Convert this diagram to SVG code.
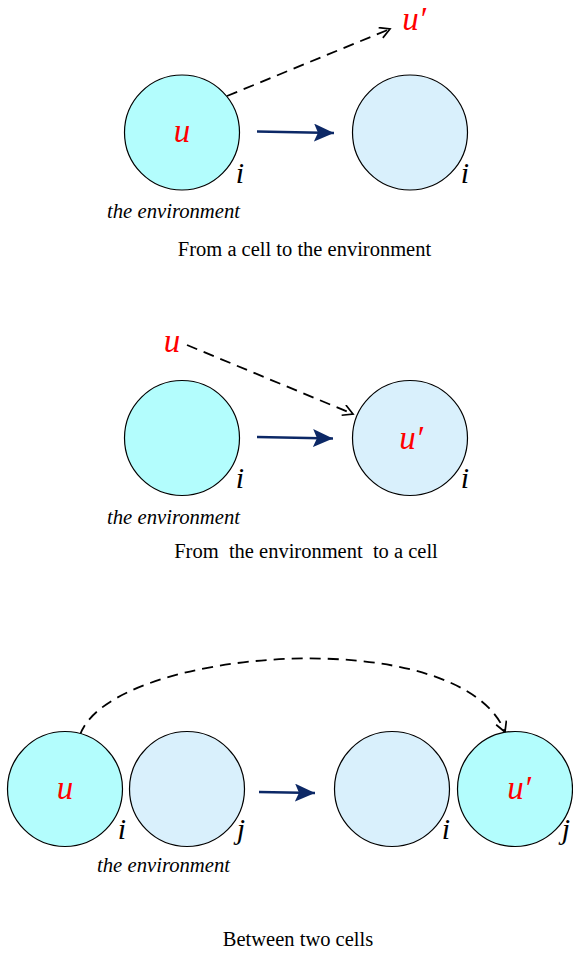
<svg xmlns="http://www.w3.org/2000/svg" width="573" height="954" viewBox="0 0 573 954">
<style>
.c1{fill:#b3fdfd;stroke:#000;stroke-width:1.2}
.c2{fill:#d9f0fc;stroke:#000;stroke-width:1.2}
.var{font-family:"Liberation Serif",serif;font-style:italic;font-size:33px;fill:#ff0000}
.idx{font-family:"Liberation Serif",serif;font-style:italic;font-size:30px;fill:#000}
.env{font-family:"Liberation Serif",serif;font-style:italic;font-size:20.7px;fill:#000}
.cap{font-family:"Liberation Serif",serif;font-size:20.5px;fill:#000;white-space:pre}
.dash{fill:none;stroke:#000;stroke-width:1.8;stroke-dasharray:11,7}
.blue{fill:none;stroke:#0c2866;stroke-width:2.6}
</style>
<defs>
<marker id="open" markerWidth="14" markerHeight="14" refX="11" refY="6" orient="auto" markerUnits="userSpaceOnUse">
<path d="M1,0.5 L11,6 L1,11.5" fill="none" stroke="#000" stroke-width="1.7"/>
</marker>
<marker id="solid" markerWidth="24" markerHeight="20" refX="20" refY="9" orient="auto" markerUnits="userSpaceOnUse">
<path d="M0,0 L20,9 L0,18 L4,9 Z" fill="#0c2866"/>
</marker>
</defs>

<g id="connectors">
<path class="dash" d="M227,96 L390,29" marker-end="url(#open)"/>
<path class="blue" d="M257,131.5 L334,133" marker-end="url(#solid)"/>
<path class="dash" d="M187,345 L353,414" marker-end="url(#open)"/>
<path class="blue" d="M257,437 L333,438.5" marker-end="url(#solid)"/>
<path class="dash" d="M80,735 C110,648 460,620 505,732" marker-end="url(#open)"/>
<path class="blue" d="M259,792 L315,793" marker-end="url(#solid)"/>
</g>

<g id="s1-cell1">
<circle class="c1" cx="182" cy="132.5" r="57.5"/>
<text class="var" x="182" y="142" text-anchor="middle">u</text>
<text class="idx" x="240" y="183" text-anchor="middle">i</text>
</g>
<g id="s1-cell2">
<circle class="c2" cx="410" cy="132.5" r="57.5"/>
<text class="idx" x="465" y="183" text-anchor="middle">i</text>
</g>
<g id="s1-out">
<text class="var" x="414" y="30" text-anchor="middle">u′</text>
</g>
<text class="env" x="107" y="218">the environment</text>
<text class="cap" x="304.5" y="256" text-anchor="middle">From a cell to the environment</text>

<g id="s2-in">
<text class="var" x="172" y="352" text-anchor="middle">u</text>
</g>
<g id="s2-cell1">
<circle class="c1" cx="182" cy="438" r="57.5"/>
<text class="idx" x="240" y="488" text-anchor="middle">i</text>
</g>
<g id="s2-cell2">
<circle class="c2" cx="410" cy="438" r="57.5"/>
<text class="var" x="411" y="449" text-anchor="middle">u′</text>
<text class="idx" x="465" y="488" text-anchor="middle">i</text>
</g>
<text class="env" x="107" y="524">the environment</text>
<text class="cap" x="306" y="558" text-anchor="middle" xml:space="preserve">From  the environment  to a cell</text>

<g id="s3-cell-i-before">
<circle class="c1" cx="65" cy="789" r="57.5"/>
<text class="var" x="65" y="799" text-anchor="middle">u</text>
<text class="idx" x="122" y="839" text-anchor="middle">i</text>
</g>
<g id="s3-cell-j-before">
<circle class="c2" cx="187" cy="789" r="57.5"/>
<text class="idx" x="241" y="839" text-anchor="middle">j</text>
</g>
<g id="s3-cell-i-after">
<circle class="c2" cx="392" cy="789" r="57.5"/>
<text class="idx" x="446" y="839" text-anchor="middle">i</text>
</g>
<g id="s3-cell-j-after">
<circle class="c1" cx="515" cy="789" r="57.5"/>
<text class="var" x="519" y="799" text-anchor="middle">u′</text>
<text class="idx" x="566" y="839" text-anchor="middle">j</text>
</g>
<text class="env" x="97" y="872">the environment</text>
<text class="cap" x="298" y="946" text-anchor="middle">Between two cells</text>
</svg>
